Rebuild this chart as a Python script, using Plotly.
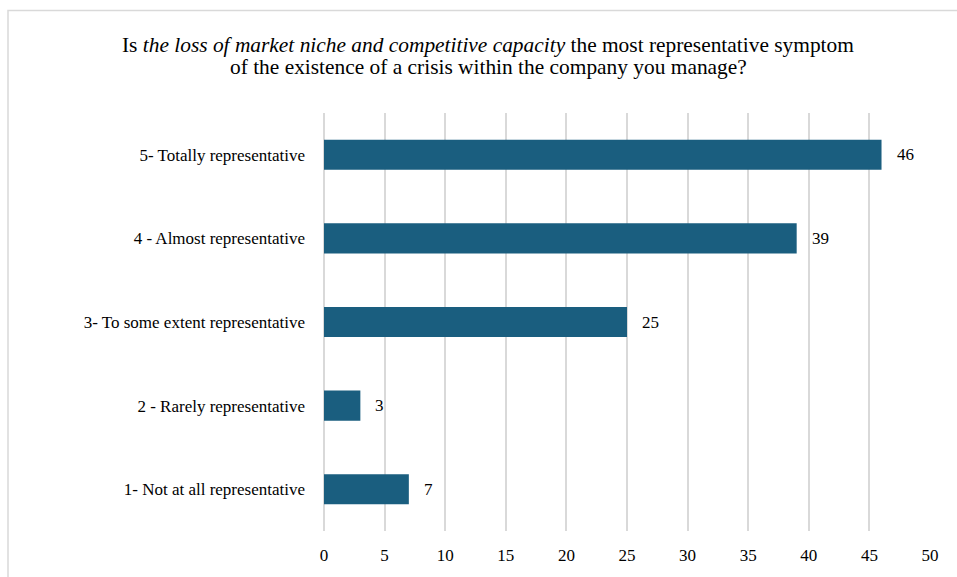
import plotly.graph_objects as go

categories = [
    "1- Not at all representative",
    "2 - Rarely representative",
    "3- To some extent representative",
    "4 - Almost representative",
    "5- Totally representative",
]
counts = [7, 3, 25, 39, 46]
x_ticks = [0, 5, 10, 15, 20, 25, 30, 35, 40, 45, 50]

TITLE_LINES = [
    "Is <i>the loss of market niche and competitive capacity</i> the most representative symptom",
    "of the existence of a crisis within the company you manage?",
]

FONT = "Liberation Serif"
BAR = "#1a5e7f"
GRID = "#d9d9d9"

W, H = 957, 577
L, R, T, B = 324, 27, 113, 44
pw, ph = W - L - R, H - T - B

fig = go.Figure(
    go.Bar(
        y=categories,
        x=counts,
        orientation="h",
        marker=dict(color=BAR, line=dict(width=0)),
        hoverinfo="skip",
    )
)

# value labels to the right of each bar
for cat, v in zip(categories, counts):
    fig.add_annotation(
        x=v, y=cat, xref="x", yref="y", text=str(v), showarrow=False,
        xanchor="left", yanchor="middle", xshift=13,
        font=dict(family=FONT, size=17, color="#000000"),
    )

# two-line heading centred over the frame (one annotation per line for tight leading)
for line, ypx in zip(TITLE_LINES, [44.5, 67]):
    fig.add_annotation(
        x=(488 - L) / pw, y=(H - B - ypx) / ph, xref="paper", yref="paper",
        text=line, showarrow=False, xanchor="center", yanchor="middle",
        align="center", font=dict(family=FONT, size=21.4, color="#000000"),
    )

# outer chart frame
fig.add_shape(
    type="rect", xref="paper", yref="paper",
    x0=(8 - L) / pw, x1=(W + 20 - L) / pw,
    y0=-(B + 20) / ph, y1=(H - B - 10) / ph,
    line=dict(color="#d9d9d9", width=1.5), fillcolor="rgba(0,0,0,0)", layer="below",
)

fig.update_layout(
    width=W, height=H,
    margin=dict(l=L, r=R, t=T, b=B),
    paper_bgcolor="white", plot_bgcolor="white",
    bargap=0.64,
    showlegend=False,
    font=dict(family=FONT, size=17, color="#000000"),
    xaxis=dict(
        range=[0, 50], tickvals=x_ticks, showgrid=True, gridcolor=GRID, gridwidth=1.5,
        zeroline=True, zerolinecolor=GRID, zerolinewidth=1.5, showline=False,
        ticks="", ticklabelstandoff=12, tickfont=dict(family=FONT, size=17),
        fixedrange=True,
    ),
    yaxis=dict(
        showgrid=False, showline=False, ticks="", ticklabelstandoff=18,
        tickfont=dict(family=FONT, size=17), fixedrange=True,
    ),
)

fig.write_html("out.html")
